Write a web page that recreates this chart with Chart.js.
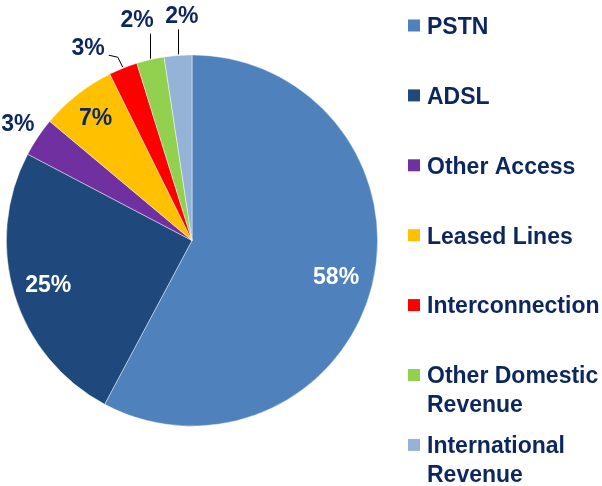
<!DOCTYPE html>
<html>
<head>
<meta charset="utf-8">
<script src="https://cdn.jsdelivr.net/npm/chart.js@4/dist/chart.umd.min.js"></script>
<style>
html,body{margin:0;padding:0;background:#fff;overflow:hidden;}
#wrap{position:relative;width:602px;height:486px;}
</style>
</head>
<body>
<div id="wrap"><canvas id="c" width="602" height="486"></canvas></div>
<script>
const categories = ["PSTN","ADSL","Other Access","Leased Lines","Interconnection",["Other Domestic","Revenue"],["International","Revenue"]];
const shares = [57.8, 24.9, 3.4, 6.6, 2.5, 2.4, 2.4];
const colors = ["#4F81BD","#1F497D","#7030A0","#FFC000","#FF0000","#92D050","#95B3D7"];

const NAVY = "#0C275E";
const FONT = 'bold 23px "Liberation Sans", Arial, sans-serif';

// label placement style per slice (presentation only)
const labelStyle = [
  {mode:'in', f:0.80, color:'#fff'},
  {mode:'in', f:0.81, color:'#fff'},
  {mode:'out', f:1.13},
  {mode:'in', f:0.84, color:NAVY},
  {mode:'elbow'},
  {mode:'up', dx:-13},
  {mode:'up', dx:4}
];

const labelPlugin = {
  id:'sliceLabels',
  afterDatasetsDraw(chart){
    const ctx = chart.ctx;
    const meta = chart.getDatasetMeta(0);
    const vals = chart.data.datasets[0].data;
    ctx.save();
    ctx.font = FONT;
    ctx.textBaseline = 'middle';
    meta.data.forEach((arc, i) => {
      const p = arc.getProps(['x','y','startAngle','endAngle','outerRadius'], true);
      const mid = (p.startAngle + p.endAngle)/2;
      const txt = Math.round(vals[i]) + '%';
      const st = labelStyle[i];
      const cx = Math.cos(mid), cy = Math.sin(mid);
      if (st.mode === 'in' || st.mode === 'out') {
        const r = p.outerRadius * st.f;
        ctx.fillStyle = st.color || NAVY;
        ctx.textAlign = 'center';
        ctx.fillText(txt, p.x + cx*r, p.y + cy*r + 1);
      } else if (st.mode === 'up') {
        const x0 = p.x + cx*(p.outerRadius+1), y0 = p.y + cy*(p.outerRadius+1);
        ctx.strokeStyle = '#000'; ctx.lineWidth = 1;
        ctx.beginPath(); ctx.moveTo(Math.round(x0)+0.5, y0); ctx.lineTo(Math.round(x0)+0.5, y0-25); ctx.stroke();
        ctx.fillStyle = NAVY; ctx.textAlign = 'center';
        ctx.fillText(txt, x0 + st.dx, y0 - 38);
      } else if (st.mode === 'elbow') {
        const x0 = p.x + cx*(p.outerRadius+1), y0 = p.y + cy*(p.outerRadius+1);
        ctx.strokeStyle = '#000'; ctx.lineWidth = 1;
        ctx.beginPath(); ctx.moveTo(x0, y0); ctx.lineTo(x0-5, y0-10); ctx.lineTo(x0-14, y0-12); ctx.stroke();
        ctx.fillStyle = NAVY; ctx.textAlign = 'right';
        ctx.fillText(txt, x0-18, y0-19);
      }
    });
    ctx.restore();
  }
};

const legendPlugin = {
  id:'sideLegend',
  afterDraw(chart){
    const ctx = chart.ctx;
    const labels = chart.data.labels;
    const cols = chart.data.datasets[0].backgroundColor;
    ctx.save();
    ctx.font = FONT;
    ctx.textBaseline = 'middle';
    ctx.textAlign = 'left';
    labels.forEach((lab, i) => {
      const cyRow = 25.5 + i*69.9;
      ctx.fillStyle = cols[i];
      ctx.fillRect(408, cyRow-6, 12, 12);
      ctx.fillStyle = NAVY;
      const lines = Array.isArray(lab) ? lab : [lab];
      lines.forEach((ln, k) => ctx.fillText(ln, 427, cyRow + 2 + k*28.5));
    });
    ctx.restore();
  }
};

new Chart(document.getElementById('c'), {
  type:'pie',
  data:{
    labels: categories,
    datasets:[{
      data: shares,
      backgroundColor: colors,
      borderColor: 'rgba(255,255,255,0.6)',
      borderWidth: 0.75
    }]
  },
  options:{
    responsive:false,
    animation:false,
    layout:{padding:{left:6, right:224, top:54, bottom:59}},
    plugins:{legend:{display:false}, tooltip:{enabled:false}}
  },
  plugins:[labelPlugin, legendPlugin]
});
</script>
</body>
</html>
